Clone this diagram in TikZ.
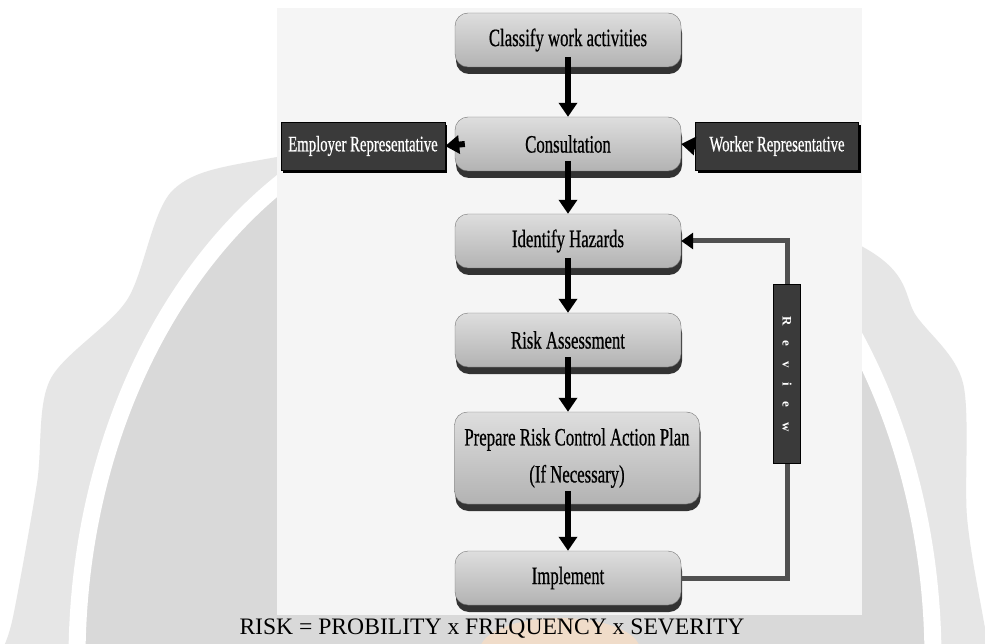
\documentclass[tikz,border=0pt]{standalone}
\usepackage{fontspec}
\setmainfont{Liberation Serif}
\newfontfamily\cond[FakeStretch=0.67,FakeBold=0.6]{Liberation Serif}
\usetikzlibrary{arrows.meta,shadows,calc}
\definecolor{panelc}{HTML}{F5F5F5}
\definecolor{wmouter}{HTML}{E6E6E6}
\definecolor{wminner}{HTML}{D9D9D9}
\definecolor{repc}{HTML}{3A3A3A}
\definecolor{linec}{HTML}{505050}
\definecolor{peach}{HTML}{F6DDC6}
\begin{document}
\begin{tikzpicture}[x=1pt,y=-1pt,
  stepbox/.style={rounded corners=13pt, draw=black!55, top color=black!13, bottom color=black!30,
    minimum width=226pt, minimum height=54pt, inner sep=2pt,
    font=\cond\fontsize{25}{37}\selectfont, text=black,
    drop shadow={shadow xshift=1pt, shadow yshift=-7pt, fill=black!80, opacity=1}},
  repbox/.style={draw=black, fill=repc, minimum height=48pt, inner sep=2pt,
    font=\cond\fontsize{22}{24}\selectfont, text=white,
    drop shadow={shadow xshift=2pt, shadow yshift=-3pt, fill=black, opacity=1}},
  revbox/.style={draw=black, fill=repc, minimum width=179pt, minimum height=27pt, inner sep=0pt},
  flow/.style={line width=6pt, black, -{Triangle[length=14pt,width=18pt]}},
  loopline/.style={line width=5pt, linec, -{Triangle[length=12pt,width=16pt,color=black]}},
  caption/.style={font=\fontsize{23.6}{26}\selectfont, text=black, inner sep=0pt}
]
\useasboundingbox (0,0) rectangle (985,644);
\fill[white] (0,0) rectangle (985,644);
% watermark
\fill[wmouter] plot[smooth] coordinates {(2,650) (13,617) (37,483) (50,380) (127,300) (173,190) (277,157) (560,120) (863,247) (917,317) (963,383) (967,517) (983,617) (990,650)} -- cycle;
\fill[wminner] (505,660) ellipse [x radius=428, y radius=560];
\draw[white, line width=17pt] (505,660) ellipse [x radius=428, y radius=560];
\fill[peach, opacity=0.8] (560,650) ellipse [x radius=80, y radius=32];
% panel
\fill[panelc] (277,8) rectangle (862,615);
% nodes
\node[stepbox] (cls) at (568,40) {Classify work activities};
\node[stepbox] (con) at (568,144) {Consultation};
\node[stepbox] (ide) at (568,241) {Identify Hazards};
\node[stepbox] (ras) at (568,340) {Risk Assessment};
\node[stepbox, minimum width=245pt, minimum height=92pt, align=center] (prep) at (577,458) {Prepare Risk Control Action Plan\\(If Necessary)};
\node[stepbox] (imp) at (568,578) {Implement};
\node[repbox, minimum width=164pt] (emp) at (363,146) {Employer Representative};
\node[repbox, minimum width=163pt] (wrk) at (777,146) {Worker Representative};
% review loop
\coordinate (rv) at (787,374);
\draw[loopline] (imp.east) -| (rv) |- (ide.east);
\node[revbox, font=\bfseries\fontsize{13}{15}\selectfont, text=white, rotate=-90] (rev) at (rv)
  {R\hspace{15pt}e\hspace{15pt}v\hspace{15pt}i\hspace{15pt}e\hspace{15pt}w};
% flow arrows
\draw[flow] ($(cls.center)+(0,17)$) -- (con.north);
\draw[flow] ($(con.center)+(0,17)$) -- (ide.north);
\draw[flow] ($(ide.center)+(0,17)$) -- (ras.north);
\draw[flow] ($(ras.center)+(0,17)$) -- (ras.center |- prep.north);
\draw[flow] ($(prep.center -| imp.center)+(0,33)$) -- (imp.north);
\draw[flow] ($(con.west)+(10,0)$) -- (emp.east);
\draw[flow] (wrk.west) -- (con.east);
% caption
\node[caption] (cap) at (492,629) {RISK = PROBILITY x FREQUENCY x SEVERITY};
\end{tikzpicture}
\end{document}
